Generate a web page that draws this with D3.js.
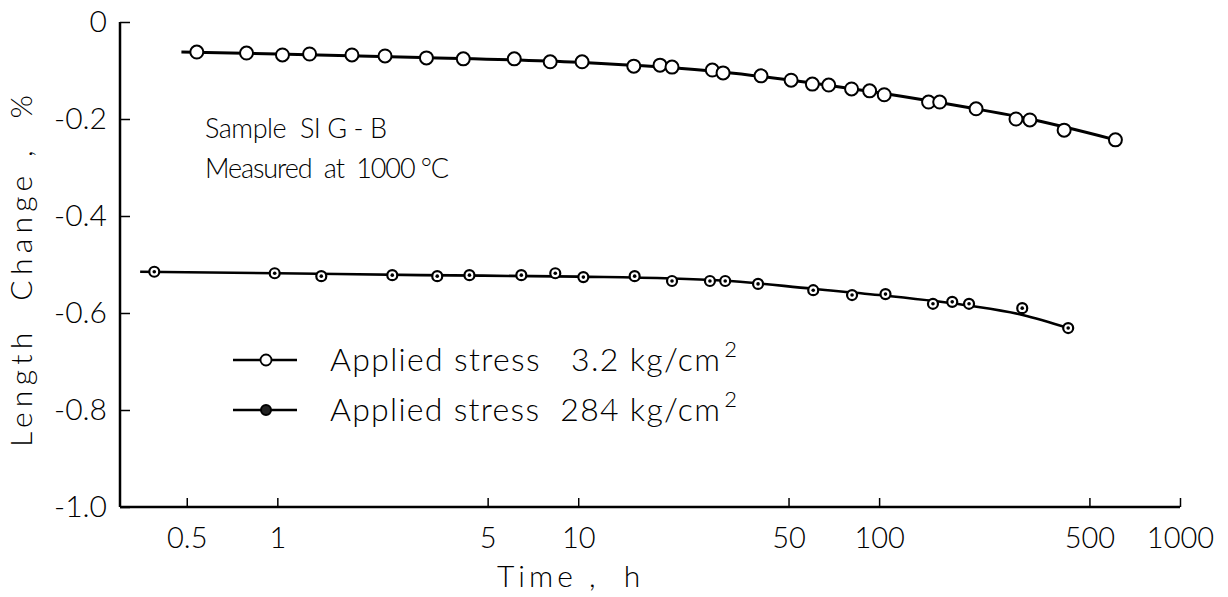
<!DOCTYPE html>
<html>
<head>
<meta charset="utf-8">
<script src="https://cdn.jsdelivr.net/npm/d3@7"></script>
<style>
  body { margin: 0; background: #fff; }
  text { font-family: Lato, "DejaVu Sans", sans-serif; font-weight: 300; fill: #000; }
</style>
</head>
<body>
<div id="chart"></div>
<script>
// measured points, 3.2 kg/cm2
const lowStressTime = [0.54, 0.79, 1.04, 1.28, 1.77, 2.28, 3.13, 4.15, 6.13, 8.07, 10.3, 15.3, 18.7, 20.5, 27.9, 30.3, 40.5, 51, 60, 68, 81, 93, 104, 146, 159, 210, 285, 317, 412, 610];
const lowStressValue = [-0.062, -0.064, -0.068, -0.066, -0.068, -0.070, -0.074, -0.076, -0.076, -0.082, -0.082, -0.091, -0.089, -0.093, -0.099, -0.105, -0.111, -0.120, -0.128, -0.130, -0.138, -0.142, -0.150, -0.165, -0.165, -0.179, -0.200, -0.202, -0.223, -0.243];
// measured points, 284 kg/cm2
const highStressTime = [0.39, 0.98, 1.40, 2.41, 3.40, 4.35, 6.47, 8.39, 10.4, 15.4, 20.5, 27.4, 30.8, 39.6, 60.4, 81.3, 105, 151, 175, 199, 299, 425];
const highStressValue = [-0.515, -0.518, -0.524, -0.522, -0.524, -0.522, -0.522, -0.518, -0.526, -0.524, -0.534, -0.534, -0.534, -0.540, -0.553, -0.563, -0.561, -0.581, -0.577, -0.581, -0.590, -0.631];
// drawn curves
const lowFitTime = [0.48, 1, 3, 10, 30, 60, 100, 200, 300, 610];
const lowFitValue = [-0.062, -0.066, -0.073, -0.083, -0.103, -0.126, -0.146, -0.177, -0.197, -0.243];
const highFitTime = [0.35, 1, 3, 10, 30, 60, 100, 200, 300, 425];
const highFitValue = [-0.515, -0.518, -0.522, -0.525, -0.533, -0.550, -0.563, -0.585, -0.604, -0.631];

const xTicks = [0.5, 1, 5, 10, 50, 100, 500, 1000];
const xTickLabels = ["0.5", "1", "5", "10", "50", "100", "500", "1000"];
const yTicks = [0, -0.2, -0.4, -0.6, -0.8, -1.0];
const yTickLabels = ["0", "-0.2", "-0.4", "-0.6", "-0.8", "-1.0"];
const legendLabels = ["Applied stress   3.2 kg/cm", "Applied stress  284 kg/cm"];

const width = 1228, height = 597;
const svg = d3.select("#chart").append("svg")
    .attr("width", width)
    .attr("height", height);

const x = d3.scaleLog().domain([0.3, 1000]).range([120, 1180]);
const y = d3.scaleLinear().domain([-1, 0]).range([507, 22]);

// axes
const xAxis = d3.axisBottom(x).tickValues(xTicks).tickSize(-9).tickPadding(20)
    .tickFormat((d, i) => xTickLabels[i]);
const gx = svg.append("g").attr("transform", `translate(0,${y(-1)})`).call(xAxis);
const yAxis = d3.axisLeft(y).tickValues(yTicks).tickSize(-10).tickPadding(13)
    .tickFormat((d, i) => yTickLabels[i]);
const gy = svg.append("g").attr("transform", `translate(${x(0.3)},0)`).call(yAxis);

[gx, gy].forEach(g => {
  g.select(".domain").attr("stroke", "#000").attr("stroke-width", 2.5);
  g.selectAll(".tick line").attr("stroke", "#000").attr("stroke-width", 1.5);
  g.selectAll(".tick text").style("font-size", "30px").attr("fill", "#000");
});
gx.selectAll(".tick text").style("font-size", "29px");
gx.select(".domain").attr("d", `M${x(0.3)},0H${x(1000)}`);
gy.select(".domain").attr("d", `M0,${y(0)}V${y(-1)}`);

// titles
svg.append("text")
    .attr("x", 497).attr("y", 587)
    .attr("xml:space", "preserve")
    .style("font-size", "30px")
    .style("letter-spacing", "4px")
    .text("Time ,  h");
svg.append("text")
    .attr("transform", `translate(32,447) rotate(-90)`)
    .attr("xml:space", "preserve")
    .attr("textLength", 352).attr("lengthAdjust", "spacing")
    .style("font-size", "30px")
    .text("Length  Change ,  %");

// annotation
svg.append("text").attr("x", 205).attr("y", 138).style("font-size", "27px")
    .attr("xml:space", "preserve")
    .attr("textLength", 182).attr("lengthAdjust", "spacing")
    .text("Sample  SI G - B");
svg.append("text").attr("x", 205).attr("y", 178).style("font-size", "27px")
    .attr("xml:space", "preserve")
    .attr("textLength", 244).attr("lengthAdjust", "spacing")
    .text("Measured  at  1000 °C");

const line = d3.line().x(d => x(d[0])).y(d => y(d[1])).curve(d3.curveMonotoneX);

svg.append("path")
    .datum(lowFitTime.map((t, i) => [t, lowFitValue[i]]))
    .attr("d", line).attr("fill", "none").attr("stroke", "#000").attr("stroke-width", 3);
svg.append("path")
    .datum(highFitTime.map((t, i) => [t, highFitValue[i]]))
    .attr("d", line).attr("fill", "none").attr("stroke", "#000").attr("stroke-width", 2.6);

svg.append("g").selectAll("circle")
    .data(lowStressTime.map((t, i) => [t, lowStressValue[i]]))
    .join("circle")
    .attr("cx", d => x(d[0])).attr("cy", d => y(d[1])).attr("r", 6.5)
    .attr("fill", "#fff").attr("stroke", "#000").attr("stroke-width", 2);

const hi = svg.append("g").selectAll("g")
    .data(highStressTime.map((t, i) => [t, highStressValue[i]]))
    .join("g")
    .attr("transform", d => `translate(${x(d[0])},${y(d[1])})`);
hi.append("circle").attr("r", 5).attr("fill", "#fff").attr("stroke", "#000").attr("stroke-width", 2.2);
hi.append("circle").attr("r", 1.8).attr("fill", "#000");

// legend
const legend = svg.append("g");
[360, 410].forEach((ly, i) => {
  legend.append("line").attr("x1", 233).attr("x2", 297).attr("y1", ly).attr("y2", ly)
      .attr("stroke", "#000").attr("stroke-width", 2.5);
  if (i === 0) {
    legend.append("circle").attr("cx", 266).attr("cy", ly).attr("r", 5.5)
        .attr("fill", "#fff").attr("stroke", "#000").attr("stroke-width", 1.8);
  } else {
    legend.append("circle").attr("cx", 266).attr("cy", ly).attr("r", 5)
        .attr("fill", "#222").attr("stroke", "#000").attr("stroke-width", 2);
  }
  const t = legend.append("text").attr("x", 330).attr("y", ly + 11)
      .style("font-size", "32px").attr("xml:space", "preserve");
  t.append("tspan").attr("textLength", 390).attr("lengthAdjust", "spacing").text(legendLabels[i]);
  t.append("tspan").attr("dx", 3).attr("dy", -14).style("font-size", "22px").text("2");
});
</script>
</body>
</html>
